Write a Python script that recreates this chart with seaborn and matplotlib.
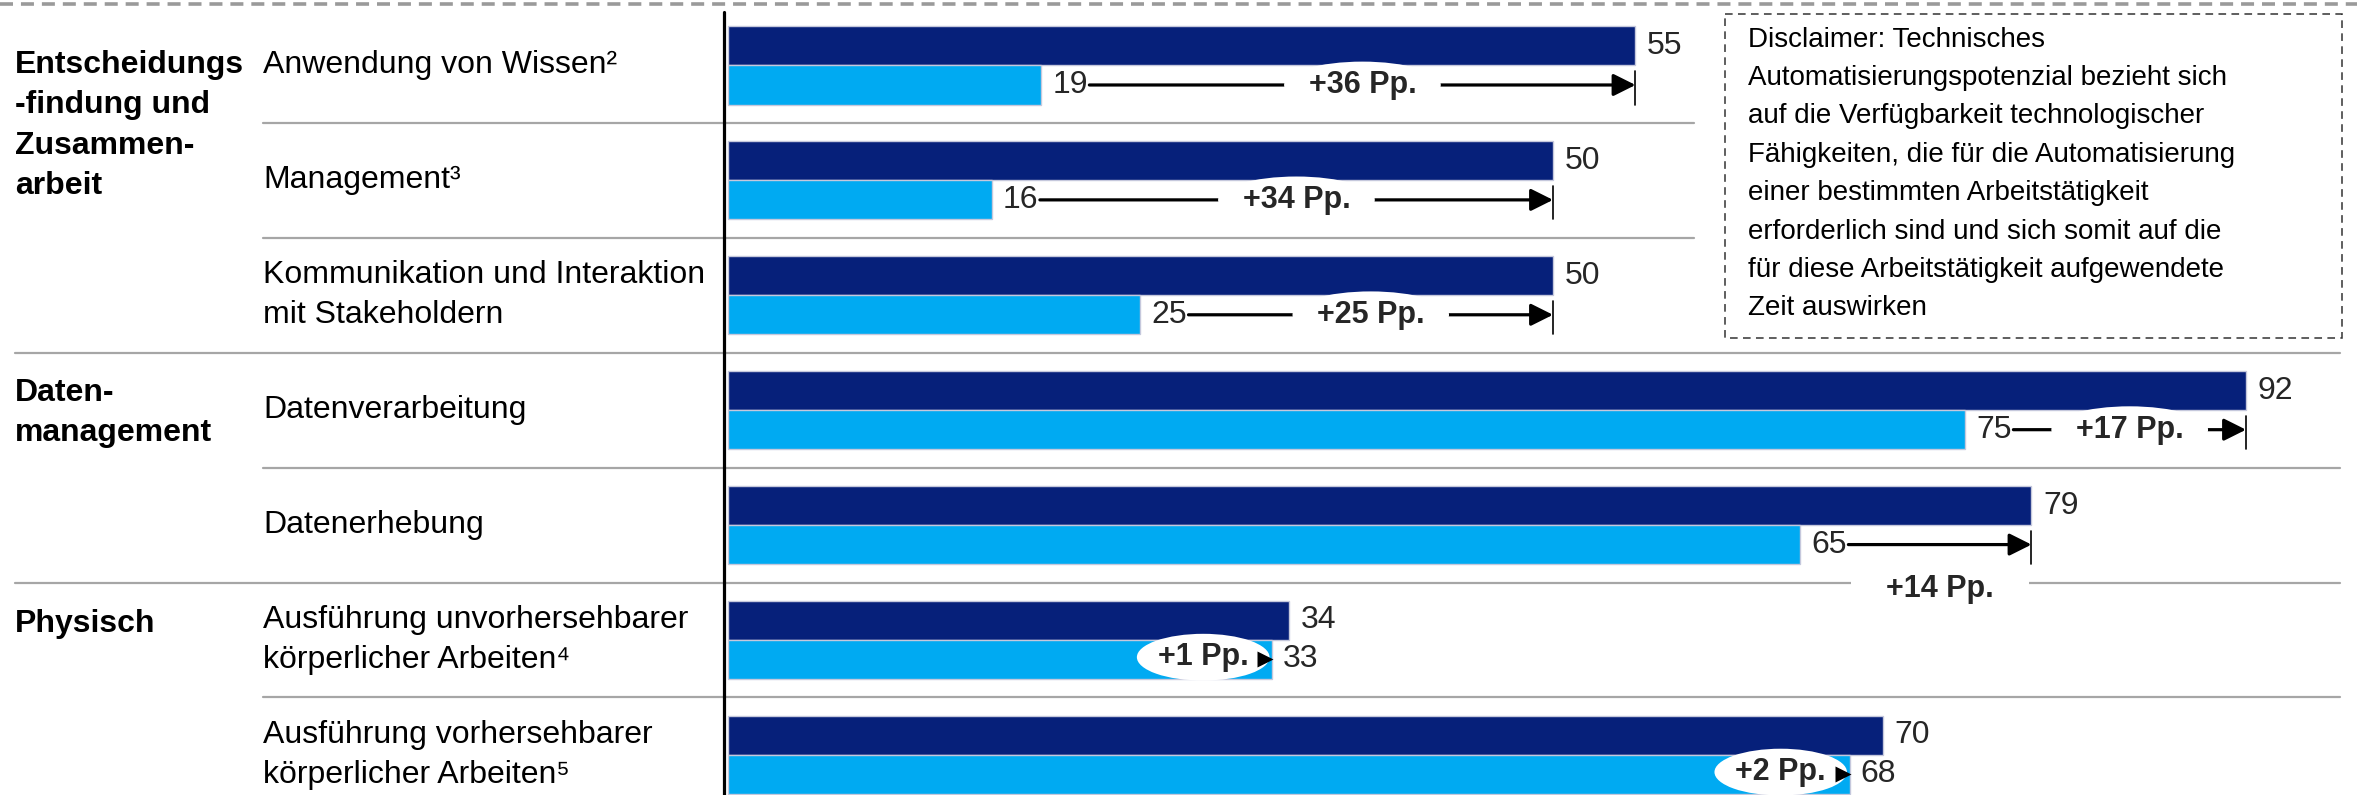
import numpy as np
import pandas as pd
import matplotlib
matplotlib.use("Agg")
import matplotlib.pyplot as plt
import seaborn as sns
from matplotlib.patches import Rectangle

# ---------------- data ----------------
kategorien = [
    "Anwendung von Wissen²",
    "Management³",
    "Kommunikation und Interaktion\nmit Stakeholdern",
    "Datenverarbeitung",
    "Datenerhebung",
    "Ausführung unvorhersehbarer\nkörperlicher Arbeiten⁴",
    "Ausführung vorhersehbarer\nkörperlicher Arbeiten⁵",
]
mit_genai = [55, 50, 50, 92, 79, 34, 70]
ohne_genai = [19, 16, 25, 75, 65, 33, 68]
serien = ["Mit generativer KI", "Ohne generative KI"]
gruppen = ["Entscheidungs\n-findung und\nZusammen-\narbeit", "Daten-\nmanagement", "Physisch"]
gruppen_start = [0, 3, 5]
disclaimer = ("Disclaimer: Technisches\nAutomatisierungspotenzial bezieht sich\n"
              "auf die Verfügbarkeit technologischer\nFähigkeiten, die für die Automatisierung\n"
              "einer bestimmten Arbeitstätigkeit\nerforderlich sind und sich somit auf die\n"
              "für diese Arbeitstätigkeit aufgewendete\nZeit auswirken")

# ---------------- style ----------------
DARK = "#06207A"
LIGHT = "#00AAF2"
SEP = "#A6A6A6"

sns.set_theme(style="white")
plt.rcParams["font.family"] = ["Liberation Sans", "DejaVu Sans"]

W_PX, H_PX = 2357, 795
fig = plt.figure(figsize=(W_PX / 100, H_PX / 100), dpi=100)
ax = fig.add_axes([0, 0, 1, 1])

df = pd.DataFrame({
    "Kategorie": kategorien * 2,
    "Wert": mit_genai + ohne_genai,
    "Serie": [serien[0]] * len(kategorien) + [serien[1]] * len(kategorien),
})
BW = 0.68
sns.barplot(data=df, x="Wert", y="Kategorie", hue="Serie", order=kategorien,
            hue_order=serien, palette=[DARK, LIGHT], orient="h", width=BW,
            dodge=True, saturation=1, edgecolor="#C5C8DC", linewidth=1.0,
            errorbar=None, legend=False, ax=ax, zorder=2)

# pixel-based frame of the figure
X0, SX = 728, 16.5          # origin px, px per unit
Y0, SY = 8, 114.9           # top row boundary px, row height px
xmin, xmax = -X0 / SX, (W_PX - X0) / SX
ytop = -0.5 - Y0 / SY
ybot = (H_PX - Y0) / SY - 0.5
ax.set_xlim(xmin, xmax)
ax.set_ylim(ybot, ytop)
ax.set_axis_off()

def px_x(p):
    return (p - X0) / SX

def px_y(p):
    return (p - Y0) / SY - 0.5

FS = 23
FS_B = 22
off = BW / 4
n = len(kategorien)

# top dashed line
ax.plot([xmin, xmax], [px_y(3.5)] * 2, color="#9A9A9A", lw=2.6,
        ls=(0, (3.6, 2.2)), solid_capstyle="butt", zorder=1)

# separators
grp_bounds = [s - 0.5 for s in gruppen_start[1:]]
box_left, box_right = px_x(1725), px_x(2342)
box_top, box_bot = px_y(14), px_y(338)
for k in range(n - 1):
    yb = k + 0.5
    if yb in grp_bounds:
        x_a = px_x(15)
    else:
        x_a = px_x(263)
    x_b = px_x(1694) if yb < box_bot else px_x(2340)
    ax.plot([x_a, x_b], [yb, yb], color=SEP, lw=1.6, zorder=1)

# vertical axis line
ax.plot([px_x(724)] * 2, [px_y(12), ybot], color="black", lw=2.3, zorder=3)

# category labels
for i, lab in enumerate(kategorien):
    ax.text(px_x(263), i, lab, ha="left", va="center", fontsize=FS,
            linespacing=1.45, color="black")

# group labels
grp_top = [px_y(50), px_y(378), px_y(609)]
for g, lab in enumerate(gruppen):
    ax.text(px_x(15), grp_top[g], lab, ha="left", va="top", fontsize=FS,
            fontweight="bold", linespacing=1.45, color="black")

fig.canvas.draw()
renderer = fig.canvas.get_renderer()
inv = ax.transData.inverted()

def text_right(t):
    bb = t.get_window_extent(renderer=renderer)
    return inv.transform((bb.x1, bb.y0))[0]

for i in range(n):
    dv, lv = mit_genai[i], ohne_genai[i]
    diff = dv - lv
    yd, yl = i - off, i + off
    ax.text(dv + 0.7, yd, f"{dv}", ha="left", va="center", fontsize=FS, zorder=6)
    tl = ax.text(lv + 0.65, yl, f"{lv}", ha="left", va="center", fontsize=FS, zorder=6)
    lab = f"+{diff} Pp."
    if diff < 5:
        # bubble inside the light bar + small arrow head
        ax.text(lv - 4.2, yl - 0.02, lab, ha="center", va="center", fontsize=FS_B,
                fontweight="bold", zorder=7,
                bbox=dict(boxstyle="ellipse,pad=0.05", fc="white", ec="none"))
        ax.plot([lv - 0.45], [yl], marker=">", ms=12, color="black", mec="none", zorder=7)
        continue
    start = text_right(tl) + 0.1
    ax.annotate("", xy=(dv, yl), xytext=(start, yl),
                arrowprops=dict(arrowstyle="-|>,head_length=0.9,head_width=0.45",
                                lw=2.3, color="black", shrinkA=0, shrinkB=0,
                                mutation_scale=15), zorder=4)
    ax.plot([dv, dv], [yl - 0.12, yl + 0.17], color="black", lw=1.2, zorder=4)
    mid = (start + dv) / 2
    if dv - start < 12:
        yb = i + 0.5
        ax.add_patch(Rectangle((mid - 5.4, yb - 0.03), 10.8, 0.06, fc="white",
                               ec="none", zorder=2))
        ax.text(mid, yb + 0.055, lab, ha="center", va="center", fontsize=FS_B,
                fontweight="bold", zorder=7)
    else:
        ax.text(mid, yl, lab, ha="center", va="center", fontsize=FS_B,
                fontweight="bold", zorder=7,
                bbox=dict(boxstyle="ellipse,pad=0.05", fc="white", ec="none"))

# disclaimer box
ax.add_patch(Rectangle((box_left, box_top), box_right - box_left, box_bot - box_top,
                       fc="white", ec="#333333", lw=1.1, ls=(0, (5, 3.5)), zorder=5))
ax.text(px_x(1748), px_y(174), disclaimer, ha="left", va="center", fontsize=20,
        linespacing=1.62, color="black", zorder=6)

fig.savefig("out.png", dpi=100)
